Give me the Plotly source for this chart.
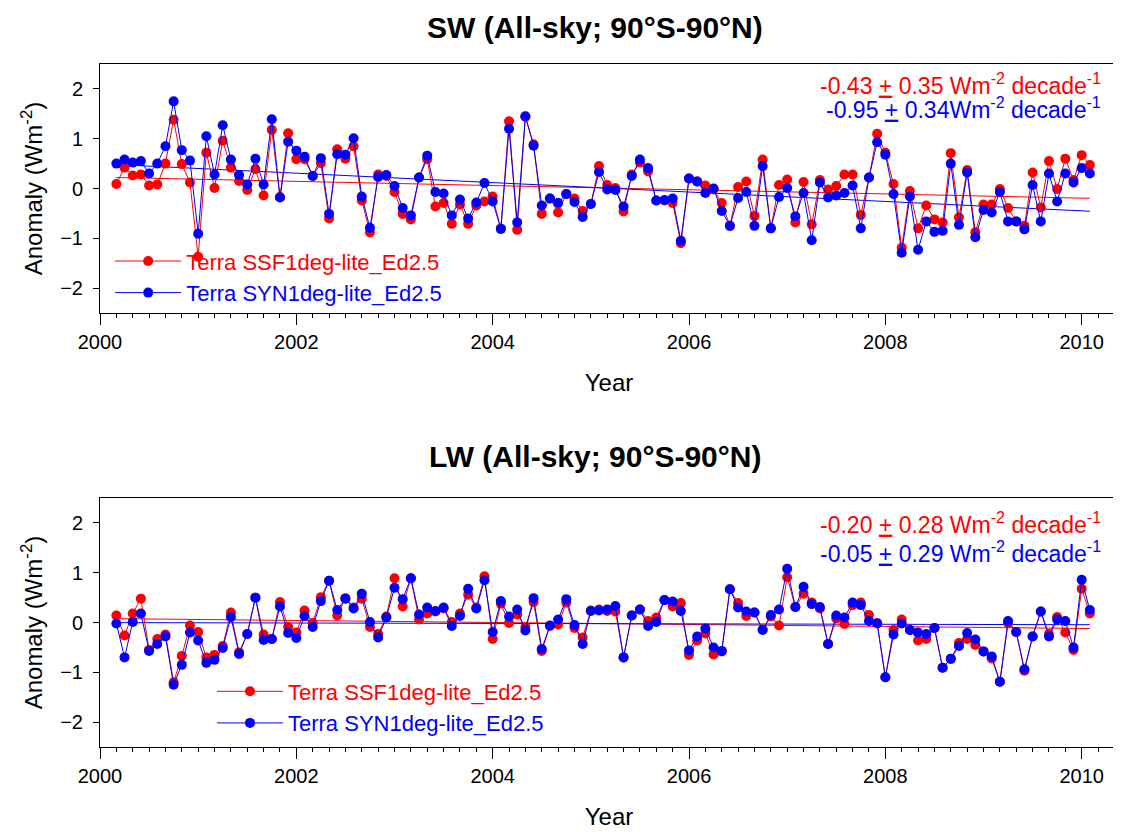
import numpy as np
import plotly.graph_objects as go

# ---------------- data (monthly, Mar 2000 - Feb 2010) ----------------
months = list(range(120))
years = [2000 + (m + 2) / 12.0 for m in months]

sw_ssf = [0.09, 0.42, 0.26, 0.28, 0.06, 0.08, 0.50, 1.38, 0.49, 0.12,
          -1.37, 0.72, 0.01, 0.96, 0.42, 0.15, -0.03, 0.39, -0.14, 1.18,
          -0.17, 1.11, 0.59, 0.59, 0.25, 0.51, -0.60, 0.79, 0.60, 0.85,
          -0.24, -0.88, 0.28, 0.25, -0.07, -0.51, -0.62, 0.22, 0.59, -0.36,
          -0.29, -0.71, -0.32, -0.71, -0.34, -0.26, -0.16, -0.81, 1.35, -0.83,
          1.44, 0.89, -0.51, -0.20, -0.48, -0.11, -0.20, -0.45, -0.31, 0.45,
          0.07, 0.01, -0.46, 0.28, 0.52, 0.34, -0.24, -0.24, -0.29, -1.10,
          0.20, 0.14, 0.06, -0.02, -0.29, -0.75, 0.03, 0.14, -0.55, 0.58,
          -0.80, 0.07, 0.18, -0.68, 0.13, -0.72, 0.17, -0.02, 0.05, 0.28,
          0.28, -0.53, 0.22, 1.10, 0.72, 0.09, -1.19, -0.05, -0.80, -0.34,
          -0.62, -0.68, 0.71, -0.58, 0.37, -0.88, -0.32, -0.32, -0.01, -0.39,
          -0.66, -0.75, 0.32, -0.38, 0.55, -0.01, 0.60, 0.17, 0.67, 0.47]

sw_syn = [0.50, 0.58, 0.52, 0.55, 0.30, 0.50, 0.85, 1.75, 0.77, 0.56,
          -0.91, 1.05, 0.28, 1.27, 0.58, 0.27, 0.08, 0.60, 0.08, 1.39,
          -0.18, 0.94, 0.76, 0.64, 0.25, 0.61, -0.51, 0.69, 0.68, 1.01,
          -0.16, -0.79, 0.23, 0.27, 0.05, -0.39, -0.54, 0.22, 0.66, -0.07,
          -0.10, -0.54, -0.22, -0.60, -0.28, 0.11, -0.26, -0.81, 1.20, -0.68,
          1.45, 0.86, -0.34, -0.20, -0.29, -0.11, -0.27, -0.57, -0.31, 0.33,
          -0.02, -0.03, -0.36, 0.25, 0.58, 0.41, -0.24, -0.23, -0.20, -1.05,
          0.20, 0.14, -0.09, 0.00, -0.45, -0.75, -0.19, -0.07, -0.75, 0.45,
          -0.80, -0.17, 0.01, -0.56, -0.09, -1.04, 0.12, -0.18, -0.14, -0.09,
          0.06, -0.80, 0.22, 0.93, 0.68, -0.11, -1.29, -0.16, -1.23, -0.66,
          -0.87, -0.85, 0.50, -0.73, 0.32, -0.98, -0.43, -0.48, -0.07, -0.66,
          -0.66, -0.82, 0.07, -0.66, 0.30, -0.26, 0.30, 0.12, 0.41, 0.30]

lw_ssf = [0.14, -0.26, 0.18, 0.48, -0.55, -0.33, -0.24, -1.20, -0.67, -0.06,
          -0.19, -0.70, -0.65, -0.47, 0.20, -0.60, -0.23, 0.50, -0.24, -0.33,
          0.41, -0.09, -0.20, 0.24, -0.01, 0.51, 0.84, 0.14, 0.49, 0.30,
          0.48, -0.09, -0.23, 0.12, 0.89, 0.32, 0.89, 0.06, 0.18, 0.22,
          0.28, 0.01, 0.18, 0.56, 0.30, 0.93, -0.33, 0.38, -0.01, 0.16,
          -0.09, 0.41, -0.57, -0.07, -0.04, 0.40, -0.11, -0.30, 0.24, 0.26,
          0.23, 0.22, -0.70, 0.14, 0.26, 0.03, 0.10, 0.45, 0.32, 0.39,
          -0.65, -0.36, -0.22, -0.64, -0.58, 0.67, 0.39, 0.13, 0.20, -0.14,
          0.12, -0.06, 0.91, 0.31, 0.58, 0.40, 0.28, -0.43, 0.08, -0.03,
          0.35, 0.40, 0.15, -0.01, -1.10, -0.15, 0.06, -0.15, -0.36, -0.33,
          -0.11, -0.91, -0.73, -0.41, -0.33, -0.45, -0.58, -0.72, -1.19, -0.01,
          -0.19, -0.97, -0.28, 0.22, -0.23, 0.11, -0.20, -0.55, 0.68, 0.18]

lw_syn = [-0.02, -0.70, 0.01, 0.18, -0.57, -0.43, -0.28, -1.25, -0.85, -0.20,
          -0.36, -0.81, -0.75, -0.51, 0.11, -0.63, -0.23, 0.50, -0.35, -0.33,
          0.32, -0.21, -0.31, 0.13, -0.09, 0.43, 0.84, 0.25, 0.48, 0.28,
          0.58, 0.01, -0.30, 0.10, 0.70, 0.47, 0.89, 0.16, 0.30, 0.23,
          0.30, -0.07, 0.13, 0.68, 0.28, 0.85, -0.19, 0.43, 0.12, 0.26,
          -0.16, 0.49, -0.53, -0.06, 0.06, 0.47, -0.05, -0.43, 0.23, 0.24,
          0.26, 0.33, -0.70, 0.14, 0.26, -0.07, 0.01, 0.45, 0.42, 0.23,
          -0.56, -0.28, -0.12, -0.50, -0.57, 0.67, 0.30, 0.22, 0.20, -0.15,
          0.15, 0.26, 1.08, 0.31, 0.72, 0.37, 0.31, -0.43, 0.14, 0.10,
          0.40, 0.35, 0.03, -0.02, -1.10, -0.24, -0.02, -0.15, -0.20, -0.23,
          -0.11, -0.91, -0.73, -0.47, -0.21, -0.34, -0.58, -0.68, -1.19, 0.03,
          -0.19, -0.94, -0.28, 0.22, -0.28, 0.06, 0.03, -0.50, 0.86, 0.25]

name_ssf = "Terra SSF1deg-lite_Ed2.5"
name_syn = "Terra SYN1deg-lite_Ed2.5"
sw_title = "SW (All-sky; 90°S-90°N)"
lw_title = "LW (All-sky; 90°S-90°N)"
sw_ssf_trend_txt = "-0.43 <u>+</u> 0.35 Wm<sup>-2</sup> decade<sup>-1</sup>"
sw_syn_trend_txt = "-0.95 <u>+</u> 0.34Wm<sup>-2</sup> decade<sup>-1</sup>"
lw_ssf_trend_txt = "-0.20 <u>+</u> 0.28 Wm<sup>-2</sup> decade<sup>-1</sup>"
lw_syn_trend_txt = "-0.05 <u>+</u> 0.29 Wm<sup>-2</sup> decade<sup>-1</sup>"

RED = "#FF0000"
BLUE = "#0000FF"
FONT = "Liberation Sans, Arial, sans-serif"

x = np.array(years)


def trend(vals):
    c = np.polyfit(x, np.array(vals), 1)
    return np.polyval(c, x)


fig = go.Figure()

panels = [("x", "y", "legend", sw_ssf, sw_syn),
          ("x2", "y2", "legend2", lw_ssf, lw_syn)]
for xa, ya, lg, ssf, syn in panels:
    fig.add_trace(go.Scatter(x=years, y=trend(ssf), mode="lines",
                             line=dict(color=RED, width=1), showlegend=False,
                             xaxis=xa, yaxis=ya))
    fig.add_trace(go.Scatter(x=years, y=trend(syn), mode="lines",
                             line=dict(color=BLUE, width=1), showlegend=False,
                             xaxis=xa, yaxis=ya))
    fig.add_trace(go.Scatter(x=years, y=ssf, mode="lines+markers",
                             name=f"<span style='color:{RED}'>{name_ssf}</span>",
                             line=dict(color=RED, width=1),
                             marker=dict(color=RED, size=10, symbol="circle"),
                             xaxis=xa, yaxis=ya, legend=lg))
    fig.add_trace(go.Scatter(x=years, y=syn, mode="lines+markers",
                             name=f"<span style='color:{BLUE}'>{name_syn}</span>",
                             line=dict(color=BLUE, width=1),
                             marker=dict(color=BLUE, size=10, symbol="circle"),
                             xaxis=xa, yaxis=ya, legend=lg))

xcommon = dict(range=[2000, 2010.37], tick0=2000, dtick=2, ticks="outside",
               ticklen=11, tickcolor="black", showline=True, linecolor="black",
               linewidth=1, mirror=True, showgrid=False, zeroline=False,
               tickfont=dict(family=FONT, size=20, color="black"),
               minor=dict(tick0=2000, dtick=1/6, ticks="outside", ticklen=4,
                          tickcolor="black", showgrid=False),
               title=dict(text="Year", font=dict(family=FONT, size=24, color="black"),
                          standoff=22))
ycommon = dict(range=[-2.5, 2.5], tickvals=[-2, -1, 0, 1, 2], ticks="outside",
               ticklen=6, tickcolor="black", showline=True, linecolor="black",
               linewidth=1, mirror=True, showgrid=False, zeroline=False,
               ticklabelstandoff=6,
               tickfont=dict(family=FONT, size=20, color="black"),
               title=dict(text="Anomaly (Wm<sup>-2</sup>)",
                          font=dict(family=FONT, size=24, color="black"),
                          standoff=10))

legcommon = dict(font=dict(family=FONT, size=22), bgcolor="rgba(0,0,0,0)",
                 itemwidth=66, tracegroupgap=0, xanchor="left", yanchor="top")

fig.update_layout(
    width=1121, height=832,
    margin=dict(l=92, r=11, t=56, b=93, autoexpand=False),
    paper_bgcolor="white", plot_bgcolor="white",
    font=dict(family=FONT, color="black"),
    xaxis=dict(domain=[0, 1], anchor="y", **xcommon),
    yaxis=dict(domain=[0.6354, 1.0], anchor="x", **ycommon),
    xaxis2=dict(domain=[0, 1], anchor="y2", **xcommon),
    yaxis2=dict(domain=[0.0, 0.3645], anchor="x2", **ycommon),
    legend=dict(x=0.010, y=0.742, **legcommon),
    legend2=dict(x=0.110, y=0.112, **legcommon),
)

ann = []
for txt, y in [(sw_title, 1.054), (lw_title, 0.425)]:
    ann.append(dict(text=f"<b>{txt}</b>", xref="paper", yref="paper", x=0.486, y=y,
                    xanchor="center", yanchor="middle", showarrow=False,
                    font=dict(family=FONT, size=30, color="black")))
for txt, y, col in [(sw_ssf_trend_txt, 0.970, RED), (sw_syn_trend_txt, 0.9355, BLUE),
                    (lw_ssf_trend_txt, 0.328, RED), (lw_syn_trend_txt, 0.285, BLUE)]:
    ann.append(dict(text=txt, xref="paper", yref="paper", x=0.985, y=y,
                    xanchor="right", yanchor="middle", showarrow=False,
                    font=dict(family=FONT, size=23, color=col)))
fig.update_layout(annotations=ann)

fig.write_html("out.html")
